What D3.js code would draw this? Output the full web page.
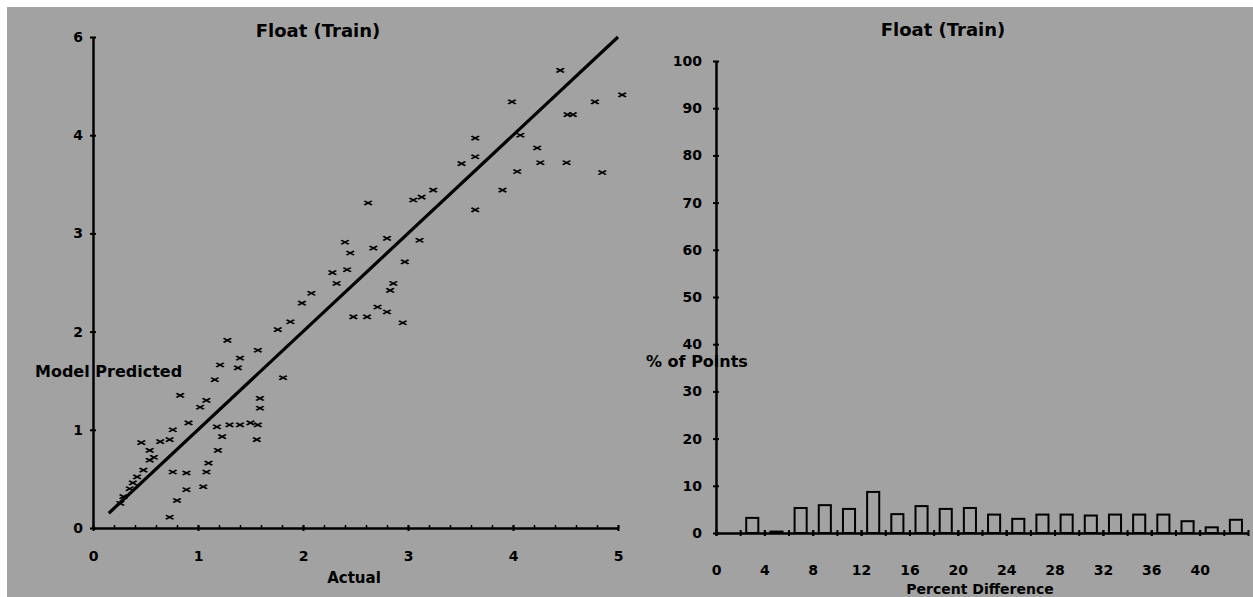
<!DOCTYPE html>
<html>
<head>
<meta charset="utf-8">
<script src="https://cdn.jsdelivr.net/npm/d3@7"></script>
<style>
  html, body { margin: 0; padding: 0; background: #fff; }
  svg { display: block; }
  text { font-family: "DejaVu Sans", sans-serif; font-weight: bold; fill: #000; }
</style>
</head>
<body>
<svg id="chart" width="1253" height="597"></svg>
<script>
// ---------- DATA ----------
const chartTitle = "Float (Train)";

// Left panel: scatter (Actual vs Model Predicted)
const actual = [1.28,1.40,1.38,1.21,1.57,1.76,1.88,1.99,2.08,1.81,1.59,1.59,1.57,1.56,1.16,1.08,1.02,0.91,0.83,0.76,
                0.64,0.46,0.54,0.48,0.38,0.29,0.26,1.18,1.23,1.19,1.10,1.08,1.05,0.89,0.76,0.80,0.89,1.40,1.30,2.61,
                2.71,2.80,2.48,2.95,0.73,0.73,0.54,1.50,3.24,3.13,3.05,2.62,2.80,2.67,2.40,2.45,2.42,2.28,2.32,3.11,
                2.97,2.86,2.83,4.45,5.04,4.78,4.52,4.57,3.99,4.07,3.64,3.64,3.51,4.23,4.26,4.04,4.51,4.85,3.90,3.64,
                0.35,0.42,0.58];
const predicted = [1.91,1.73,1.63,1.66,1.81,2.02,2.10,2.29,2.39,1.53,1.32,1.22,1.05,0.90,1.51,1.30,1.23,1.07,1.35,1.00,
                0.88,0.87,0.69,0.59,0.46,0.32,0.25,1.03,0.93,0.79,0.66,0.57,0.42,0.56,0.57,0.28,0.39,1.05,1.05,2.15,
                2.25,2.20,2.15,2.09,0.11,0.90,0.79,1.07,3.44,3.37,3.34,3.31,2.95,2.85,2.91,2.80,2.63,2.60,2.49,2.93,
                2.71,2.49,2.42,4.66,4.41,4.34,4.21,4.21,4.34,4.00,3.97,3.78,3.71,3.87,3.72,3.63,3.72,3.62,3.44,3.24,
                0.40,0.52,0.72];
const fitX = [0.15, 5.0];
const fitY = [0.15, 5.0];
const leftXTicks = [0, 1, 2, 3, 4, 5];
const leftXTickLabels = ["0", "1", "2", "3", "4", "5"];
const leftYTicks = [0, 1, 2, 3, 4, 5];
const leftYTickLabels = ["0", "1", "2", "3", "4", "6"];
const leftXLabel = "Actual";
const leftYLabel = "Model Predicted";

// Right panel: histogram of percent difference
const binCenters = [3,5,7,9,11,13,15,17,19,21,23,25,27,29,31,33,35,37,39,41,43];
const pctPoints  = [3.2,0.3,5.3,5.9,5.1,8.7,4.0,5.7,5.1,5.3,3.9,3.0,3.9,3.9,3.7,3.9,3.9,3.9,2.5,1.2,2.8];
const rightXTicks = [0,2,4,6,8,10,12,14,16,18,20,22,24,26,28,30,32,34,36,38,40,42,44];
const rightXLabelTicks = [0,4,8,12,16,20,24,28,32,36,40];
const rightXTickLabels = ["0","4","8","12","16","20","24","28","32","36","40"];
const rightYTicks = [0,10,20,30,40,50,60,70,80,90,100];
const rightYTickLabels = ["0","10","20","30","40","50","60","70","80","90","100"];
const rightXLabel = "Percent Difference";
const rightYLabel = "% of Points";

// ---------- DRAW ----------
const svg = d3.select("#chart");
const BG = "#a2a2a2";

svg.append("rect").attr("x", 7).attr("y", 7).attr("width", 1253 - 7).attr("height", 597 - 7)
  .attr("fill", BG);

function crossTicks(g, horizontal) {
  g.select(".domain").attr("stroke", "#000").attr("stroke-width", 2.5);
  g.selectAll(".tick line").attr("stroke", "#000").attr("stroke-width", 2)
    .each(function() {
      const l = d3.select(this);
      if (horizontal) l.attr("y1", -3).attr("y2", 3);
      else l.attr("x1", -3).attr("x2", 3);
    });
  g.selectAll(".tick text").attr("font-size", 14).attr("font-family", "DejaVu Sans").attr("font-weight", "bold").attr("fill", "#000");
}

// ---- Left panel ----
const lx = d3.scaleLinear().domain([0, 5]).range([93, 618]);
const ly = d3.scaleLinear().domain([0, 5]).range([528, 37]);

// minor ticks on x
const minorTicks = d3.range(0, 5.001, 0.2);
svg.append("g").attr("transform", `translate(0,${ly(0)})`)
  .call(d3.axisBottom(lx).tickValues(minorTicks).tickSize(-3).tickFormat(""))
  .call(g => { g.select(".domain").remove(); g.selectAll("line").attr("stroke", "#000").attr("stroke-width", 1.5); });

svg.append("g").attr("transform", `translate(0,${ly(0)})`)
  .call(d3.axisBottom(lx).tickValues(leftXTicks).tickSize(3).tickPadding(20)
        .tickFormat((d, i) => leftXTickLabels[i]).tickSizeOuter(0))
  .call(g => crossTicks(g, true));

svg.append("g").attr("transform", `translate(${lx(0)},0)`)
  .call(d3.axisLeft(ly).tickValues(leftYTicks).tickSize(3).tickPadding(7)
        .tickFormat((d, i) => leftYTickLabels[i]).tickSizeOuter(0))
  .call(g => crossTicks(g, false));

// fit line
const lineData = fitX.map((d, i) => [d, fitY[i]]);
svg.append("path").datum(lineData)
  .attr("d", d3.line().x(d => lx(d[0])).y(d => ly(d[1])))
  .attr("stroke", "#000").attr("stroke-width", 3.2).attr("fill", "none");

// points
const sym = d3.symbol().type(d3.symbolTimes).size(22);
svg.append("g").selectAll("path.pt").data(actual.map((a, i) => [a, predicted[i]]))
  .join("path").attr("class", "pt")
  .attr("d", sym)
  .attr("transform", d => `translate(${lx(d[0])},${ly(d[1])}) scale(1.35,0.75)`)
  .attr("stroke", "#000").attr("stroke-width", 1.8).attr("fill", "none");

svg.append("text").attr("x", 318).attr("y", 37).attr("text-anchor", "middle")
  .attr("font-size", 18).text(chartTitle);
svg.append("text").attr("x", 354).attr("y", 583).attr("text-anchor", "middle")
  .attr("font-size", 15).text(leftXLabel);
svg.append("text").attr("x", 35).attr("y", 377).attr("text-anchor", "start")
  .attr("font-size", 16).text(leftYLabel);

// ---- Right panel ----
const rx = d3.scaleLinear().domain([0, 44]).range([716, 1248]);
const ry = d3.scaleLinear().domain([0, 100]).range([533, 61]);

// bars
svg.append("g").selectAll("rect.bar").data(binCenters.map((c, i) => [c, pctPoints[i]]))
  .join("rect").attr("class", "bar")
  .attr("x", d => rx(d[0] - 0.5))
  .attr("width", d => rx(d[0] + 0.5) - rx(d[0] - 0.5))
  .attr("y", d => ry(d[1]))
  .attr("height", d => ry(0) - ry(d[1]))
  .attr("fill", BG)
  .attr("stroke", "#000").attr("stroke-width", 2);

svg.append("g").attr("transform", `translate(0,${ry(0)})`)
  .call(d3.axisBottom(rx).tickValues(rightXTicks).tickSize(3).tickFormat("").tickSizeOuter(0))
  .call(g => crossTicks(g, true));
svg.append("g").attr("transform", `translate(0,${ry(0)})`)
  .call(d3.axisBottom(rx).tickValues(rightXLabelTicks).tickSize(3).tickPadding(29)
        .tickFormat((d, i) => rightXTickLabels[i]).tickSizeOuter(0))
  .call(g => { crossTicks(g, true); g.select(".domain").remove(); });

svg.append("text").attr("x", 943).attr("y", 36).attr("text-anchor", "middle")
  .attr("font-size", 18).text(chartTitle);
svg.append("text").attr("x", 980).attr("y", 594).attr("text-anchor", "middle")
  .attr("font-size", 14).text(rightXLabel);
svg.append("text").attr("x", 646).attr("y", 367).attr("text-anchor", "start")
  .attr("font-size", 16).text(rightYLabel);

svg.append("g").attr("transform", `translate(${rx(0)},0)`)
  .call(d3.axisLeft(ry).tickValues(rightYTicks).tickSize(3).tickPadding(11)
        .tickFormat((d, i) => rightYTickLabels[i]).tickSizeOuter(0))
  .call(g => crossTicks(g, false));
</script>
</body>
</html>
